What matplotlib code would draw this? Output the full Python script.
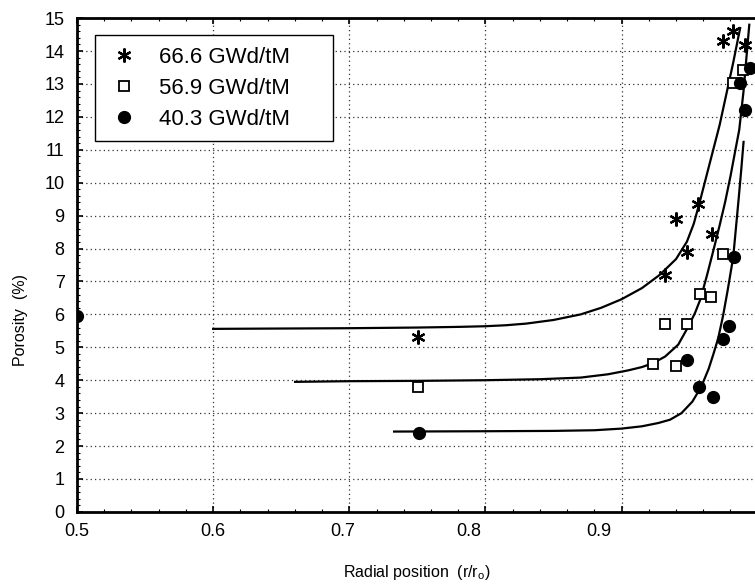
import matplotlib
matplotlib.use("Agg")
import matplotlib.pyplot as plt
from matplotlib.ticker import MultipleLocator
from matplotlib.transforms import ScaledTranslation

plt.rcParams['font.family'] = ['Liberation Sans', 'DejaVu Sans']

# ---- data ----
labels = ["66.6 GWd/tM", "56.9 GWd/tM", "40.3 GWd/tM"]

star_x = [0.7505, 0.9320, 0.9401, 0.9482, 0.9563, 0.9666, 0.9743, 0.9820, 0.9908]
star_y = [5.31, 7.21, 8.90, 7.88, 9.36, 8.45, 14.30, 14.60, 14.18]

sq_x = [0.7505, 0.9232, 0.9320, 0.9401, 0.9482, 0.9578, 0.9658, 0.9747, 0.9820, 0.9893]
sq_y = [3.80, 4.50, 5.70, 4.43, 5.70, 6.61, 6.52, 7.82, 13.03, 13.42]

circ_x = [0.5000, 0.7513, 0.9482, 0.9570, 0.9673, 0.9747, 0.9791, 0.9827, 0.9871, 0.9908, 0.9945]
circ_y = [5.95, 2.41, 4.62, 3.80, 3.50, 5.25, 5.64, 7.75, 13.03, 12.21, 13.48]

# fitted curves, points
fit_star_x = [0.600, 0.650, 0.700, 0.750, 0.780, 0.800, 0.815, 0.830, 0.850, 0.870,
              0.885, 0.900, 0.915, 0.928, 0.940, 0.948, 0.953, 0.957, 0.962, 0.967,
              0.972, 0.977, 0.982, 0.9871]
fit_star_y = [5.56, 5.57, 5.58, 5.60, 5.62, 5.64, 5.67, 5.72, 5.83, 6.00,
              6.20, 6.46, 6.80, 7.20, 7.68, 8.21, 8.75, 9.35, 10.15, 10.95,
              11.75, 12.70, 13.65, 14.70]

fit_sq_x = [0.6602, 0.700, 0.750, 0.800, 0.840, 0.870, 0.890, 0.905, 0.915, 0.9232,
            0.932, 0.9416, 0.9489, 0.954, 0.9578, 0.9625, 0.9673, 0.972, 0.9761,
            0.980, 0.9834, 0.9864, 0.9895, 0.9938]
fit_sq_y = [3.95, 3.97, 3.98, 4.00, 4.03, 4.08, 4.18, 4.30, 4.40, 4.52,
            4.72, 5.08, 5.62, 6.05, 6.45, 7.15, 7.92, 8.70, 9.42,
            10.20, 10.95, 11.60, 12.75, 14.80]

fit_circ_x = [0.7329, 0.800, 0.850, 0.880, 0.900, 0.915, 0.927, 0.9356, 0.944, 0.952,
              0.9585, 0.964, 0.9675, 0.9710, 0.9745, 0.978, 0.982, 0.9859, 0.9878, 0.9896]
fit_circ_y = [2.44, 2.45, 2.46, 2.48, 2.53, 2.60, 2.70, 2.80, 3.00, 3.35,
              3.80, 4.35, 4.80, 5.28, 5.95, 6.75, 7.74, 9.47, 10.35, 11.24]

xticks = [0.5, 0.6, 0.7, 0.8, 0.9]
xtick_labels = ["0.5", "0.6", "0.7", "0.8", "0.9"]
yticks = list(range(0, 16))

# ---- figure ----
fig = plt.figure(figsize=(7.55, 5.85), dpi=100)
ax = fig.add_axes([0.102, 0.125, 0.898, 0.844])

ax.set_xlim(0.5, 0.998)
ax.set_ylim(0, 15)

for fx, fy in [(fit_star_x, fit_star_y), (fit_sq_x, fit_sq_y), (fit_circ_x, fit_circ_y)]:
    ax.plot(fx, fy, color='black', lw=1.6, zorder=3, solid_joinstyle='round')

ax.plot(star_x, star_y, linestyle='none', marker=(6, 2, 0), markersize=10,
        markeredgewidth=1.6, color='black', label=labels[0], zorder=4)
ax.plot(sq_x, sq_y, linestyle='none', marker='s', markersize=7, markerfacecolor='white',
        markeredgewidth=1.3, markeredgecolor='black', label=labels[1], zorder=4)
ax.plot(circ_x, circ_y, linestyle='none', marker='o', markersize=8.5, color='black',
        label=labels[2], zorder=4)

ax.set_yticks(yticks)
ax.set_xticks(xticks)
ax.set_xticklabels([])
ax.xaxis.set_minor_locator(MultipleLocator(0.02))
ax.yaxis.set_minor_locator(MultipleLocator(0.2))
ax.tick_params(axis='both', which='major', direction='in', length=4, width=1.2,
               top=True, labelsize=13, pad=9)
ax.tick_params(axis='both', which='minor', direction='in', length=2, width=0.8, top=True)

# x tick labels, shifted in pixels as in the original scan
offs_px = [0, 0, -7, -17, -23]
for xv, lab, dx in zip(xticks, xtick_labels, offs_px):
    ax.text(xv, -0.35, lab, ha='center', va='top', fontsize=13,
            transform=ax.transData + ScaledTranslation(dx / 100.0, 0, fig.dpi_scale_trans))

ax.grid(True, which='major', linestyle=(0, (1, 2.5)), color='#333333', linewidth=0.9)

for side in ['left', 'bottom', 'top']:
    ax.spines[side].set_linewidth(2.0)
ax.spines['right'].set_visible(False)

fig.text(0.027, 0.453, "Porosity  (%)", rotation=90, ha='center', va='center', fontsize=11.5)
fig.text(0.552, 0.022, r"Radial position  (r/r$_\mathregular{o}$)", ha='center', va='center',
         fontsize=11.5)

leg = ax.legend(loc='upper left', bbox_to_anchor=(0.026, 0.76, 0.352, 0.205), mode='expand',
                borderaxespad=0, fancybox=False, edgecolor='black', framealpha=1,
                fontsize=16, handletextpad=0.8, borderpad=0.5, labelspacing=0.45,
                handlelength=1.6, numpoints=1)
leg.get_frame().set_linewidth(1.0)

fig.savefig("out.png", dpi=100)
